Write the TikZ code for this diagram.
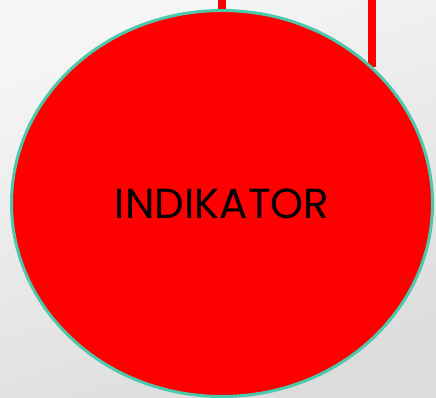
\documentclass[tikz,border=0pt]{standalone}
\usepackage{fontspec}
\setmainfont{Poppins}
\usepackage{tikz}
\usetikzlibrary{positioning,calc,shapes.geometric,backgrounds}
\definecolor{signal}{HTML}{FF0000}
\definecolor{teal}{HTML}{4CC9AC}
\definecolor{paper}{HTML}{F6F6F6}
\definecolor{mist}{HTML}{DCDCDC}

\begin{document}
\begin{tikzpicture}[
  x=1pt,y=1pt,
  blob/.style={ellipse,draw=teal,line width=3pt,fill=signal,minimum width=421pt,minimum height=386pt,inner sep=0pt,font=\fontsize{42}{42}\selectfont},
  stem/.style={draw=signal,line width=8pt}
]
\useasboundingbox (0,0) rectangle (436,398);
\node[blob] (indikator) at (222,194.5) {INDIKATOR};
\coordinate (left top) at (222,398);
\coordinate (right top) at (372,398);
\begin{pgfonlayer}{background}
\shade[top color=paper,bottom color=mist,shading angle=20] (0,0) rectangle (436,398);
\draw[stem] (left top) -- (indikator.north);
\draw[stem] (right top) -- (right top |- indikator.42);
\end{pgfonlayer}
\end{tikzpicture}
\end{document}
